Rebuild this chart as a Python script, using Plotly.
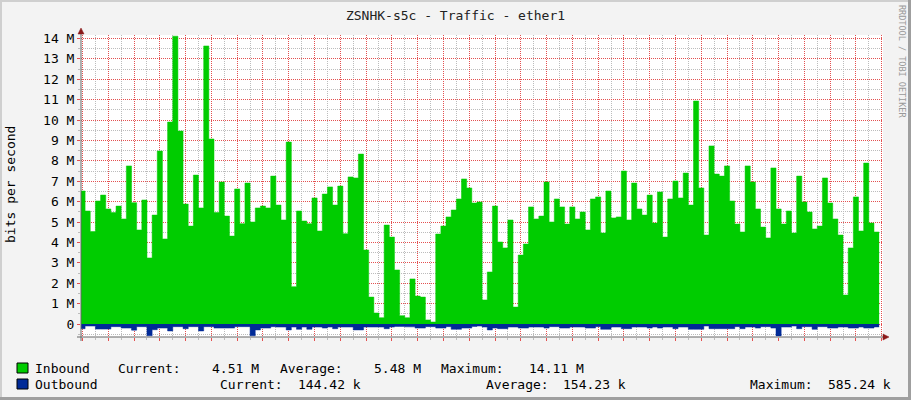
import plotly.graph_objects as go

# traffic, in Mbit/s, one value per consolidated step (0.2 day)
inbound = [
    6.52, 5.54, 4.53, 6.03, 6.32, 5.64, 5.46, 5.78, 5.15, 7.75,
    5.95, 4.61, 6.08, 3.24, 5.34, 8.48, 4.17, 9.90, 14.11, 9.46,
    5.88, 4.80, 7.30, 5.69, 13.63, 9.07, 5.46, 6.96, 5.29, 4.31,
    6.62, 4.92, 6.91, 5.00, 5.69, 5.78, 5.69, 7.25, 5.83, 5.10,
    8.92, 1.83, 5.54, 5.05, 4.92, 6.18, 4.56, 6.37, 6.72, 5.83,
    6.76, 4.43, 7.21, 7.16, 8.33, 3.63, 1.32, 0.54, 0.31, 4.85,
    4.26, 2.65, 0.41, 0.31, 2.21, 1.37, 1.32, 0.20, 0.10, 4.41,
    4.80, 5.25, 5.59, 6.13, 7.11, 6.67, 5.93, 5.98, 1.18, 2.55,
    5.78, 4.02, 3.73, 5.10, 0.83, 3.38, 3.92, 5.74, 5.15, 5.29,
    6.96, 5.00, 6.13, 5.74, 4.90, 5.74, 5.15, 5.49, 4.61, 6.13,
    6.23, 4.46, 6.52, 5.20, 5.25, 7.50, 5.10, 6.91, 5.64, 5.34,
    6.32, 4.95, 6.47, 4.26, 6.13, 7.01, 6.18, 7.40, 5.83, 10.93,
    6.67, 4.36, 8.73, 7.35, 7.25, 7.75, 6.03, 4.90, 4.51, 7.75,
    6.96, 5.64, 4.75, 4.22, 7.65, 5.64, 4.90, 5.54, 4.46, 7.25,
    5.98, 5.49, 4.66, 4.80, 7.16, 5.93, 5.15, 4.36, 1.42, 3.73,
    6.23, 4.56, 7.89, 4.95, 4.51,
]
outbound = [
    0.23, 0.10, 0.10, 0.25, 0.25, 0.25, 0.13, 0.13, 0.20, 0.20,
    0.30, 0.13, 0.13, 0.58, 0.28, 0.20, 0.20, 0.34, 0.13, 0.13,
    0.23, 0.13, 0.13, 0.34, 0.13, 0.13, 0.20, 0.20, 0.20, 0.20,
    0.13, 0.13, 0.13, 0.58, 0.29, 0.20, 0.20, 0.13, 0.15, 0.15,
    0.29, 0.15, 0.26, 0.15, 0.26, 0.15, 0.15, 0.20, 0.15, 0.23,
    0.15, 0.15, 0.15, 0.29, 0.29, 0.15, 0.15, 0.15, 0.15, 0.23,
    0.15, 0.12, 0.12, 0.14, 0.14, 0.20, 0.20, 0.13, 0.13, 0.20,
    0.20, 0.13, 0.26, 0.26, 0.20, 0.20, 0.12, 0.10, 0.15, 0.29,
    0.20, 0.23, 0.23, 0.15, 0.15, 0.20, 0.20, 0.15, 0.15, 0.15,
    0.20, 0.13, 0.13, 0.20, 0.20, 0.15, 0.15, 0.15, 0.20, 0.20,
    0.13, 0.26, 0.26, 0.15, 0.15, 0.23, 0.23, 0.15, 0.15, 0.15,
    0.20, 0.15, 0.20, 0.15, 0.15, 0.23, 0.15, 0.15, 0.26, 0.26,
    0.26, 0.10, 0.23, 0.23, 0.23, 0.23, 0.23, 0.13, 0.23, 0.15,
    0.15, 0.20, 0.13, 0.13, 0.20, 0.585, 0.15, 0.15, 0.10, 0.23,
    0.13, 0.13, 0.26, 0.13, 0.13, 0.20, 0.20, 0.15, 0.15, 0.20,
    0.20, 0.15, 0.20, 0.20, 0.144,
]
day_labels = ["Fri", "Sun", "Tue", "Thu", "Sat", "Mon", "Wed", "Fri",
              "Sun", "Tue", "Thu", "Sat", "Mon", "Wed", "Fri"]
y_labels = ["0"] + [f"{m} M" for m in range(1, 15)]

# time axis in days, 0 = midnight starting the first Friday
t0, step = -1.1, 0.2
x = [t0 + step * i for i in range(len(inbound) + 1)]

FONT = "DejaVu Sans Mono"
RED = "rgb(228,80,80)"
GRAY = "rgb(188,188,188)"
GREEN = "#00CC00"
BLUE = "#002A97"

# plot area in pixels
L, R, T, B = 81, 883, 35, 337
W, H = 911, 400


def px(v):
    return (v - L) / (R - L)


def py(v):
    return (B - v) / (B - T)


fig = go.Figure()
fig.add_trace(go.Scatter(x=x, y=inbound + inbound[-1:], mode="lines",
                         line=dict(color=GREEN, width=0.5, shape="hv"),
                         fill="tozeroy", fillcolor=GREEN, hoverinfo="skip"))
fig.add_trace(go.Scatter(x=x, y=[-v for v in outbound + outbound[-1:]], mode="lines",
                         line=dict(color=BLUE, width=0.5, shape="hv"),
                         fill="tozeroy", fillcolor=BLUE, hoverinfo="skip"))

xr = [-1.059, 30.05]
fig.update_layout(
    width=W, height=H,
    margin=dict(l=L, r=W - R, t=T, b=H - B),
    paper_bgcolor="#f3f3f3", plot_bgcolor="white",
    showlegend=False,
    font=dict(family=FONT, size=13, color="#000"),
    title=dict(text="ZSNHK-s5c - Traffic - ether1", x=0.5, xanchor="center",
               y=1 - 15 / H, yanchor="middle", font=dict(size=13, color="#222")),
    xaxis=dict(range=xr, tickmode="linear", tick0=0, dtick=1, showticklabels=False,
               showgrid=True, gridcolor=RED, griddash="1px,1px", gridwidth=1,
               ticks="outside", ticklen=3, tickcolor=RED,
               minor=dict(dtick=0.5, tick0=0, showgrid=True, gridcolor=GRAY,
                          griddash="1px,1px", ticks="outside", ticklen=2, tickcolor=GRAY),
               zeroline=False, showline=False),
    xaxis2=dict(range=xr, overlaying="x", matches="x", side="bottom", anchor="y",
                tickvals=[0.5 + 2 * k for k in range(len(day_labels))], ticktext=day_labels,
                showgrid=False, ticks="", zeroline=False, showline=False,
                tickfont=dict(size=13, color="#000")),
    yaxis=dict(range=[-0.637, 14.167], tickvals=list(range(15)), ticktext=y_labels,
               showgrid=True, gridcolor=RED, griddash="1px,1px", gridwidth=1,
               ticks="outside", ticklen=3, tickcolor=RED,
               minor=dict(dtick=0.5, tick0=0, showgrid=True, gridcolor=GRAY,
                          griddash="1px,1px", ticks="outside", ticklen=2, tickcolor=GRAY),
               zeroline=False, showline=False, tickfont=dict(size=13, color="#000")),
)

shapes = []
# axes with arrow heads
shapes.append(dict(type="line", xref="paper", yref="paper", x0=px(81), x1=px(81),
                   y0=py(341), y1=py(30), line=dict(color="#666", width=1)))
shapes.append(dict(type="line", xref="paper", yref="paper", x0=px(77), x1=px(884),
                   y0=py(337), y1=py(337), line=dict(color="#666", width=1)))
shapes.append(dict(type="path", xref="paper", yref="paper",
                   path=f"M {px(78)} {py(34)} L {px(84)} {py(34)} L {px(81)} {py(28)} Z",
                   fillcolor="#8b1a1a", line=dict(color="#8b1a1a", width=0.5)))
shapes.append(dict(type="path", xref="paper", yref="paper",
                   path=f"M {px(883)} {py(334)} L {px(883)} {py(340)} L {px(889)} {py(337)} Z",
                   fillcolor="#8b1a1a", line=dict(color="#8b1a1a", width=0.5)))
# legend swatches
for y0, col in [(363, GREEN), (379, BLUE)]:
    shapes.append(dict(type="rect", xref="paper", yref="paper", x0=px(17), x1=px(28),
                       y0=py(y0 + 10), y1=py(y0), fillcolor=col,
                       line=dict(color="#000", width=1)))
# frame
shapes.append(dict(type="rect", xref="paper", yref="paper", x0=px(0), x1=px(W),
                   y0=py(2), y1=py(0), fillcolor="#cfcfcf", line=dict(width=0)))
shapes.append(dict(type="rect", xref="paper", yref="paper", x0=px(0), x1=px(2),
                   y0=py(H), y1=py(0), fillcolor="#cfcfcf", line=dict(width=0)))
shapes.append(dict(type="rect", xref="paper", yref="paper", x0=px(W - 3), x1=px(W),
                   y0=py(H), y1=py(0), fillcolor="#9f9f9f", line=dict(width=0)))
shapes.append(dict(type="rect", xref="paper", yref="paper", x0=px(0), x1=px(W),
                   y0=py(H), y1=py(H - 3), fillcolor="#9f9f9f", line=dict(width=0)))
fig.update_layout(shapes=shapes)

annotations = []


def note(text, x0, y0, anchor="left", **kw):
    annotations.append(dict(text=text, xref="paper", yref="paper", x=px(x0), y=py(y0),
                            xanchor=anchor, yanchor="middle", showarrow=False,
                            font=dict(family=FONT, size=kw.pop("size", 13),
                                      color=kw.pop("color", "#000")), **kw))


note("bits per second", 10, 185, anchor="center", textangle=-90)
note("RRDTOOL / TOBI OETIKER", 902, 61, anchor="center", textangle=90, size=8.5, color="#999")

row1, row2 = 368, 384
note("Inbound", 33, row1)
note("Current:", 116, row1)
note("4.51 M", 261, row1, anchor="right")
note("Average:", 278, row1)
note("5.48 M", 423, row1, anchor="right")
note("Maximum:", 439, row1)
note("14.11 M", 586, row1, anchor="right")
note("Outbound", 33, row2)
note("Current:", 218, row2)
note("144.42 k", 363, row2, anchor="right")
note("Average:", 484, row2)
note("154.23 k", 628, row2, anchor="right")
note("Maximum:", 748, row2)
note("585.24 k", 893, row2, anchor="right")
fig.update_layout(annotations=annotations)

fig.write_html("out.html", config={"displayModeBar": False},
               post_script="document.body.style.margin='0';")
